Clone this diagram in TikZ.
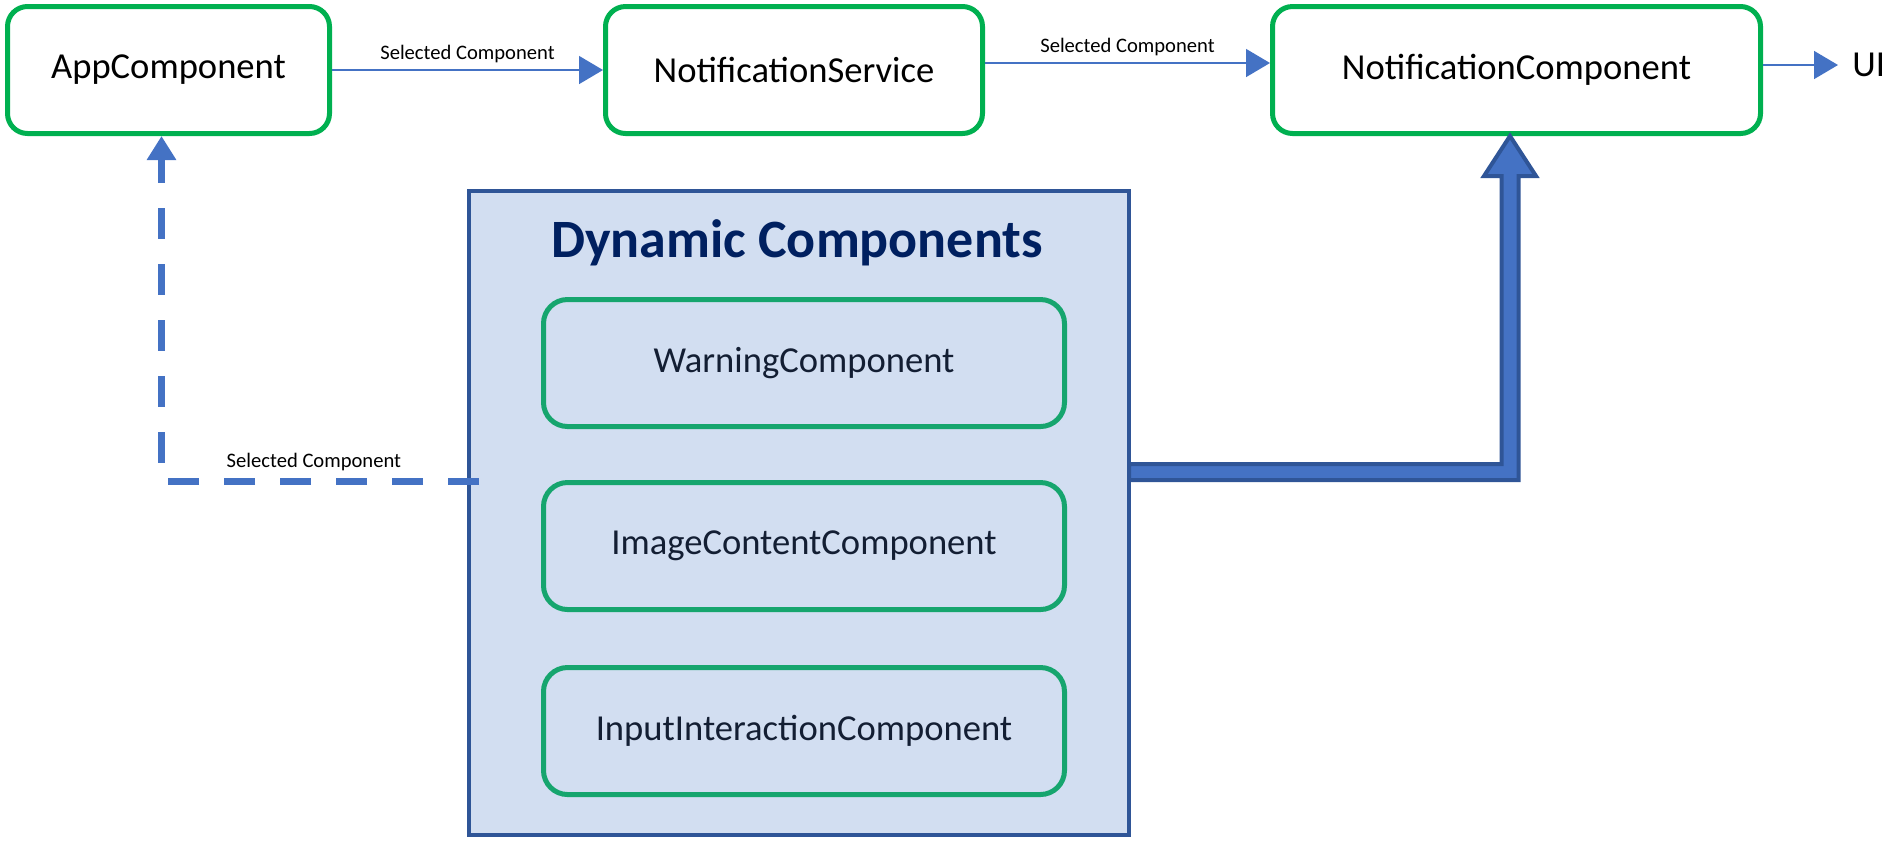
\documentclass[tikz,border=0pt]{standalone}
\usepackage{fontspec}
\setmainfont{Carlito}
\usetikzlibrary{positioning, arrows.meta, calc}

\definecolor{boxgreen}{HTML}{00B050}
\definecolor{innergreen}{HTML}{16A56E}
\definecolor{flowblue}{HTML}{4472C4}
\definecolor{edgeblue}{HTML}{2F5597}
\definecolor{panelblue}{HTML}{D2DEF1}
\definecolor{titlenavy}{HTML}{002060}
\definecolor{innertext}{HTML}{131E33}

\begin{document}
\begin{tikzpicture}[x=0.5pt, y=-0.5pt, >={Triangle[length=12pt,width=14pt]}, auto,
    block/.style={draw=boxgreen, line width=2.5pt, rounded corners=10pt, minimum width=#1, minimum height=63.5pt, font=\fontsize{18.3}{22}\selectfont},
    sub/.style={draw=innergreen, fill=panelblue, line width=2.5pt, rounded corners=12pt, minimum width=260.5pt, minimum height=63.5pt, text=innertext, font=\fontsize{18.3}{22}\selectfont},
    panel/.style={draw=edgeblue, fill=panelblue, line width=2pt, minimum width=330pt, minimum height=322pt},
    lbl/.style={font=\fontsize{10.3}{12}\selectfont, text=black},
    flow/.style={->, draw=flowblue, line width=0.8pt},
    selflow/.style={->, draw=flowblue, line width=3.5pt, dash pattern=on 15.5pt off 12.5pt},
    bigflow/.style={fill=flowblue, draw=edgeblue, line width=2pt, line join=miter}]
    \useasboundingbox (0,0) rectangle (1902,843);

    \node (app) [block=161pt] at (168.5,70) {AppComponent};
    \node (ns) [block=188.5pt, right=135.5pt of app] {NotificationService};
    \node (nc) [block=244pt, right=142.5pt of ns] {NotificationComponent};
    \node (ui) [right=37.5pt of nc, yshift=2.5pt, inner xsep=7pt, font=\fontsize{18.3}{22}\selectfont] {UI};

    \node (dyn) [panel] at (799,513) {};
    \node (dyntitle) at (797,243) [font=\bfseries\fontsize{27}{32}\selectfont, text=titlenavy] {Dynamic Components};
    \node (warn) [sub] at (804,363) {WarningComponent};
    \node (img) [sub, below=25.5pt of warn] {ImageContentComponent};
    \node (inp) [sub, below=26.5pt of img] {InputInteractionComponent};

    \path
        (app) edge[flow] node[lbl] {Selected Component} (ns)
        ([yshift=3.5pt]ns.east) edge[flow] node[lbl] {Selected Component} ([yshift=3.5pt]nc.west)
        (nc.east |- ui.west) edge[flow] (ui.west);

    \coordinate (selsrc) at (479,481);
    \draw[selflow] (selsrc) -| node[pos=0.26, above, lbl] {Selected Component} ([xshift=-3.5pt]app.south);

    \coordinate (elbow) at (1510,472);
    \coordinate (bigstart) at ([xshift=-1pt]elbow -| dyn.east);
    \coordinate (bigtip) at (elbow |- nc.south);
    \draw[bigflow] ($(bigstart)+(0,-8)$) -- ($(elbow)+(-8.5,-8)$) -- ($(bigtip)+(-8.5,40)$) -- ($(bigtip)+(-26,40)$) -- (bigtip)
        -- ($(bigtip)+(26,40)$) -- ($(bigtip)+(8.5,40)$) -- ($(elbow)+(8.5,8)$) -- ($(bigstart)+(0,8)$) -- cycle;
\end{tikzpicture}
\end{document}
